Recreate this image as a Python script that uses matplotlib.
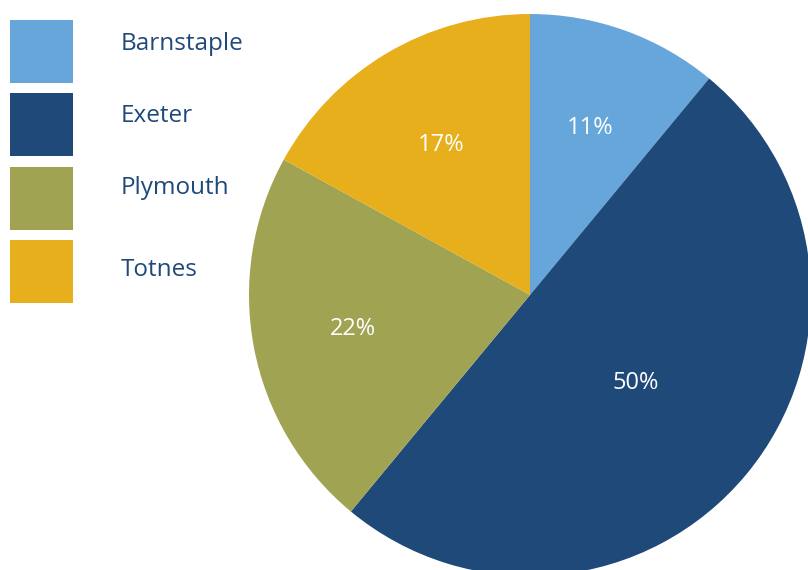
import numpy as np
import matplotlib.pyplot as plt
from matplotlib.patches import Rectangle

plt.rcParams['font.family'] = ['Open Sans', 'DejaVu Sans']

# Share by town
towns = ['Barnstaple', 'Exeter', 'Plymouth', 'Totnes']
share = [11, 50, 22, 17]
colours = ['#67A6DB', '#1F4979', '#A0A452', '#E7AF1B']

# label distance from centre (fraction of radius), per wedge
lab_dist = [0.63, 0.49, 0.64, 0.62]

fig = plt.figure(figsize=(8.08, 5.70), dpi=100)
ax = fig.add_axes([0, 0, 1, 1])

cx, cy, r = 530, 295, 281

# y axis is flipped, so counterclock in data terms = clockwise on screen
wedges, texts, autotexts = ax.pie(share, colors=colours, startangle=-90, counterclock=True,
                                  center=(cx, cy), radius=r, autopct='%1.0f%%',
                                  pctdistance=0.6, frame=True,
                                  wedgeprops=dict(linewidth=0),
                                  textprops=dict(color='white', fontsize=17))
ax.set_xlim(0, 808)
ax.set_ylim(570, 0)
ax.set_aspect('equal')
ax.axis('off')

for t, d in zip(autotexts, lab_dist):
    x, y = t.get_position()
    t.set_position((cx + (x - cx) / 0.6 * d, cy + (y - cy) / 0.6 * d))

# legend
leg_y = [20, 93, 167, 240]
txt_y = [44, 116, 188, 270]
for name, col, y0, ty in zip(towns, colours, leg_y, txt_y):
    ax.add_patch(Rectangle((10, y0), 63, 63, facecolor=col, edgecolor='none'))
    ax.text(121, ty, name, color='#1F4979', fontsize=17.5, va='center', ha='left')

fig.savefig('out.png', dpi=100)
